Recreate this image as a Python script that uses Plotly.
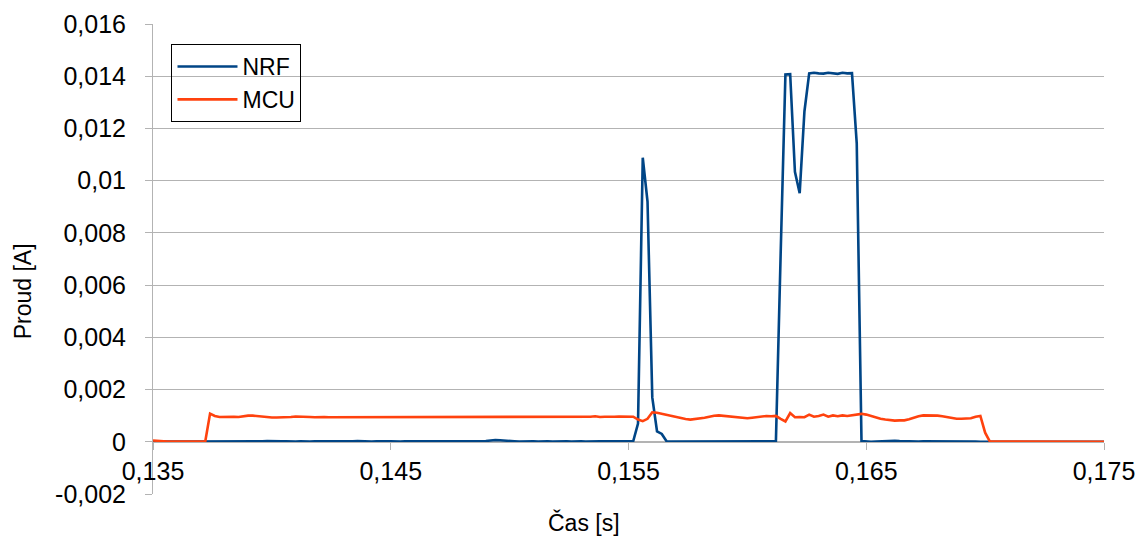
import plotly.graph_objects as go

# Sample grid (0.2 ms sampling, 0.135 s .. 0.175 s)
time_s = [round(0.135 + 0.0002 * i, 4) for i in range(201)]

nrf_A = [
    0.00002, 0.00001, 0.00000, 0.00001, 0.00001, 0.00000, 0.00001, 0.00001, 0.00001, 0.00000,
    0.00001, 0.00000, 0.00000, 0.00001, 0.00000, 0.00001, 0.00002, 0.00002, 0.00001, 0.00001,
    0.00002, 0.00001, 0.00001, 0.00002, 0.00003, 0.00002, 0.00001, 0.00002, 0.00002, 0.00001,
    0.00001, 0.00002, 0.00001, 0.00001, 0.00002, 0.00003, 0.00002, 0.00002, 0.00001, 0.00002,
    0.00002, 0.00001, 0.00002, 0.00003, 0.00002, 0.00002, 0.00001, 0.00002, 0.00003, 0.00002,
    0.00002, 0.00001, 0.00001, 0.00002, 0.00002, 0.00003, 0.00002, 0.00002, 0.00001, 0.00002,
    0.00003, 0.00002, 0.00001, 0.00002, 0.00002, 0.00003, 0.00002, 0.00002, 0.00001, 0.00002,
    0.00003, 0.00005, 0.00007, 0.00006, 0.00004, 0.00002, 0.00002, 0.00001, 0.00002, 0.00003,
    0.00002, 0.00001, 0.00002, 0.00002, 0.00001, 0.00002, 0.00003, 0.00002, 0.00001, 0.00002,
    0.00002, 0.00001, 0.00002, 0.00003, 0.00002, 0.00002, 0.00001, 0.00002, 0.00002, 0.00001,
    0.00002, 0.00003, 0.00070, 0.01088, 0.00920, 0.00170, 0.00040, 0.00030, 0.00002, 0.00001,
    0.00001, 0.00002, 0.00001, 0.00001, 0.00002, 0.00002, 0.00001, 0.00002, 0.00002, 0.00001,
    0.00001, 0.00002, 0.00002, 0.00001, 0.00001, 0.00002, 0.00002, 0.00001, 0.00001, 0.00001,
    0.00001, 0.00002, 0.00720, 0.01407, 0.01408, 0.01034, 0.00952, 0.01265, 0.01411, 0.01413,
    0.01411, 0.01410, 0.01413, 0.01410, 0.01409, 0.01413, 0.01411, 0.01412, 0.01143, 0.00003,
    0.00001, 0.00000, 0.00001, 0.00002, 0.00003, 0.00004, 0.00004, 0.00003, 0.00002, 0.00002,
    0.00001, 0.00001, 0.00002, 0.00002, 0.00002, 0.00002, 0.00003, 0.00002, 0.00002, 0.00003,
    0.00002, 0.00002, 0.00001, 0.00001, 0.00000, 0.00000, 0.00000, 0.00000, 0.00001, 0.00000,
    0.00000, 0.00001, 0.00000, 0.00000, 0.00001, 0.00001, 0.00000, 0.00000, 0.00001, 0.00000,
    0.00000, 0.00001, 0.00000, 0.00000, 0.00001, 0.00000, 0.00000, 0.00001, 0.00000, 0.00000,
    0.00000,
]

mcu_A = [
    0.00005, 0.00003, 0.00002, 0.00001, 0.00001, 0.00000, 0.00001, 0.00001, 0.00001, 0.00002,
    0.00002, 0.00002, 0.00108, 0.00099, 0.00095, 0.00096, 0.00095, 0.00096, 0.00095, 0.00098,
    0.00100, 0.00100, 0.00098, 0.00096, 0.00094, 0.00093, 0.00093, 0.00093, 0.00094, 0.00095,
    0.00097, 0.00097, 0.00096, 0.00095, 0.00094, 0.00095, 0.00095, 0.00094, 0.00094, 0.00095,
    0.00094, 0.00094, 0.00095, 0.00094, 0.00094, 0.00095, 0.00094, 0.00094, 0.00095, 0.00096,
    0.00096, 0.00095, 0.00095, 0.00094, 0.00095, 0.00095, 0.00094, 0.00094, 0.00095, 0.00095,
    0.00094, 0.00094, 0.00095, 0.00095, 0.00094, 0.00094, 0.00095, 0.00096, 0.00096, 0.00095,
    0.00095, 0.00094, 0.00095, 0.00096, 0.00096, 0.00095, 0.00095, 0.00096, 0.00096, 0.00095,
    0.00094, 0.00095, 0.00095, 0.00096, 0.00095, 0.00095, 0.00094, 0.00095, 0.00096, 0.00096,
    0.00095, 0.00095, 0.00096, 0.00098, 0.00095, 0.00096, 0.00095, 0.00096, 0.00097, 0.00096,
    0.00097, 0.00096, 0.00085, 0.00079, 0.00088, 0.00113, 0.00111, 0.00107, 0.00103, 0.00099,
    0.00093, 0.00091, 0.00087, 0.00085, 0.00087, 0.00089, 0.00092, 0.00096, 0.00100, 0.00101,
    0.00099, 0.00097, 0.00094, 0.00093, 0.00091, 0.00090, 0.00092, 0.00095, 0.00098, 0.00099,
    0.00098, 0.00099, 0.00088, 0.00078, 0.00110, 0.00094, 0.00095, 0.00094, 0.00104, 0.00096,
    0.00099, 0.00104, 0.00096, 0.00101, 0.00098, 0.00101, 0.00099, 0.00102, 0.00105, 0.00107,
    0.00104, 0.00098, 0.00093, 0.00088, 0.00085, 0.00082, 0.00081, 0.00082, 0.00082, 0.00086,
    0.00093, 0.00098, 0.00101, 0.00101, 0.00101, 0.00100, 0.00098, 0.00094, 0.00090, 0.00088,
    0.00088, 0.00088, 0.00090, 0.00096, 0.00099, 0.00035, 0.00001, 0.00001, 0.00001, 0.00000,
    0.00001, 0.00001, 0.00002, 0.00001, 0.00001, 0.00002, 0.00002, 0.00001, 0.00001, 0.00001,
    0.00002, 0.00002, 0.00001, 0.00001, 0.00001, 0.00002, 0.00001, 0.00001, 0.00001, 0.00002,
    0.00000,
]

x_ticks = [0.135, 0.145, 0.155, 0.165, 0.175]
x_tick_labels = ["0,135", "0,145", "0,155", "0,165", "0,175"]
y_ticks = [-0.002, 0, 0.002, 0.004, 0.006, 0.008, 0.010, 0.012, 0.014, 0.016]
y_tick_labels = ["-0,002", "0", "0,002", "0,004", "0,006", "0,008", "0,01", "0,012", "0,014", "0,016"]

FONT = "Liberation Sans, Arial, sans-serif"
GRID = "#b3b3b3"

fig = go.Figure()
fig.add_trace(go.Scatter(x=time_s, y=nrf_A, mode="lines", name="NRF",
                         line=dict(color="#004586", width=2.6)))
fig.add_trace(go.Scatter(x=time_s, y=mcu_A, mode="lines", name="MCU",
                         line=dict(color="#ff420e", width=2.6)))

W, H = 1139, 541
ML, MR, MT, MB = 152.5, 35, 24, 46.5
pw, ph = W - ML - MR, H - MT - MB

def px_x(p):
    return (p - ML) / pw

def px_y(p):
    return (H - MB - p) / ph

fig.update_layout(
    template="none",
    width=W, height=H,
    margin=dict(l=ML, r=MR, t=MT, b=MB, pad=0, autoexpand=False),
    paper_bgcolor="white", plot_bgcolor="white",
    font=dict(family=FONT, size=23, color="black"),
    showlegend=True,
    legend=dict(x=px_x(171), y=px_y(44), xanchor="left", yanchor="top",
                bgcolor="rgba(0,0,0,0)", bordercolor="black", borderwidth=1,
                font=dict(size=23), tracegroupgap=0, itemwidth=60),
    xaxis=dict(range=[0.135, 0.175], tickvals=x_ticks, ticktext=x_tick_labels,
               showgrid=False, zeroline=False, showline=True, linecolor=GRID, linewidth=1,
               ticks="outside", ticklen=7, tickcolor=GRID, automargin=False,
               anchor="free", position=0.002 / 0.018,
               tickfont=dict(size=25)),
    yaxis=dict(range=[-0.002, 0.016], tickvals=y_ticks, ticktext=y_tick_labels,
               showgrid=True, gridcolor=GRID, gridwidth=1, zeroline=False,
               showline=True, linecolor=GRID, linewidth=1, automargin=False,
               ticks="outside", ticklen=7, tickcolor=GRID, ticklabelstandoff=14,
               tickfont=dict(size=25)),
    annotations=[
        dict(text="Proud [A]", x=px_x(22), y=px_y(292), xref="paper", yref="paper",
             textangle=-90, showarrow=False, xanchor="center", yanchor="middle",
             font=dict(size=23)),
        dict(text="Čas [s]", x=px_x(584), y=px_y(523), xref="paper", yref="paper",
             showarrow=False, xanchor="center", yanchor="middle", font=dict(size=23)),
    ],
)

fig.write_html("out.html", config={"displayModeBar": False},
               post_script="document.body.style.margin='0';document.body.style.overflow='hidden';")
